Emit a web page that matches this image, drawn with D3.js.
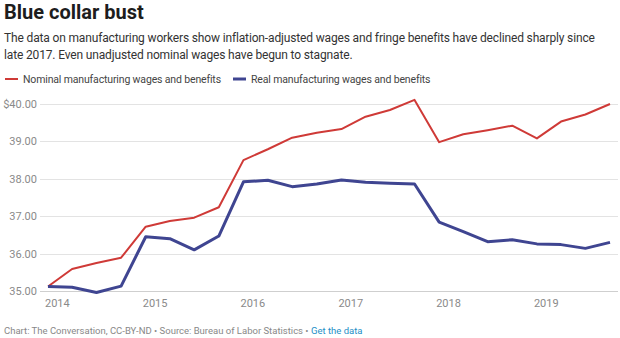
<!DOCTYPE html>
<html>
<head>
<meta charset="utf-8">
<script src="https://cdn.jsdelivr.net/npm/d3@7"></script>
<style>
  body { margin: 0; background: #fff; font-family: Roboto, sans-serif; }
  svg text { font-family: Roboto, sans-serif; }
</style>
</head>
<body>
<svg id="chart" width="620" height="338"></svg>
<script>
// quarterly observations, 2014 Q1 .. 2019 Q4
const quarters = [
  "2014-01", "2014-04", "2014-07", "2014-10",
  "2015-01", "2015-04", "2015-07", "2015-10",
  "2016-01", "2016-04", "2016-07", "2016-10",
  "2017-01", "2017-04", "2017-07", "2017-10",
  "2018-01", "2018-04", "2018-07", "2018-10",
  "2019-01", "2019-04", "2019-07", "2019-10"
];
const nominal = [
  35.12, 35.59, 35.75, 35.89,
  36.72, 36.87, 36.96, 37.24,
  38.50, 38.79, 39.10, 39.23,
  39.33, 39.66, 39.84, 40.11,
  38.98, 39.19, 39.30, 39.42,
  39.08, 39.53, 39.72, 40.00
];
const real = [
  35.12, 35.10, 34.96, 35.13,
  36.45, 36.40, 36.10, 36.47,
  37.92, 37.96, 37.79, 37.86,
  37.97, 37.91, 37.88, 37.86,
  36.84, 36.59, 36.32, 36.37,
  36.26, 36.24, 36.14, 36.30
];
const yTicks = [35, 36, 37, 38, 39, 40];
const years = [2014, 2015, 2016, 2017, 2018, 2019];

const seriesNames = ["Nominal manufacturing wages and benefits", "Real manufacturing wages and benefits"];
const colors = ["#cf3a37", "#3f4591"];

const svg = d3.select("#chart");
const parse = d3.timeParse("%Y-%m");
const dates = quarters.map(parse);

const x = d3.scaleTime()
  .domain([dates[0], dates[dates.length - 1]])
  .range([48, 610]);

const y = d3.scaleLinear()
  .domain([35, 40])
  .range([291, 104]);

// header
svg.append("text")
  .attr("x", 4).attr("y", 19)
  .attr("font-size", 20).attr("font-weight", 700)
  .attr("fill", "#1d1d1d")
  .text("Blue collar bust");

const sub = svg.append("text")
  .attr("font-size", 12).attr("fill", "#333")
  .attr("letter-spacing", -0.15);
sub.append("tspan").attr("x", 4).attr("y", 42)
  .text("The data on manufacturing workers show inflation-adjusted wages and fringe benefits have declined sharply since");
sub.append("tspan").attr("x", 4).attr("y", 59)
  .text("late 2017. Even unadjusted nominal wages have begun to stagnate.");

// legend
const legendX = [5, 233];
seriesNames.forEach((name, i) => {
  svg.append("line")
    .attr("x1", legendX[i]).attr("x2", legendX[i] + 13)
    .attr("y1", 79).attr("y2", 79)
    .attr("stroke", colors[i]).attr("stroke-width", i === 0 ? 2 : 3);
  svg.append("text")
    .attr("x", legendX[i] + 18).attr("y", 83)
    .attr("font-size", 10.5).attr("fill", "#444")
    .attr("letter-spacing", -0.15)
    .text(name);
});

// y grid + labels
const yg = svg.append("g");
yg.selectAll("line").data(yTicks).enter().append("line")
  .attr("x1", 40).attr("x2", 618)
  .attr("y1", d => Math.round(y(d)) + 0.5).attr("y2", d => Math.round(y(d)) + 0.5)
  .attr("stroke", d => d === 35 ? "#cfcfcf" : "#e3e3e3");
yg.selectAll("text").data(yTicks).enter().append("text")
  .attr("x", 37).attr("y", d => y(d) + 4)
  .attr("text-anchor", "end")
  .attr("font-size", 11).attr("fill", "#8a8a8a")
  .text(d => (d === 40 ? "$" : "") + d3.format(".2f")(d));

// x labels
svg.append("g").selectAll("text").data(years).enter().append("text")
  .attr("x", d => x(new Date(d, 0, 1)) - 3)
  .attr("y", 307)
  .attr("font-size", 11).attr("fill", "#8a8a8a")
  .text(d => d);

// lines
const line = d3.line()
  .x((d, i) => x(dates[i]))
  .y(d => y(d));

svg.append("path").datum(nominal)
  .attr("d", line).attr("fill", "none")
  .attr("stroke", colors[0]).attr("stroke-width", 2)
  .attr("stroke-linejoin", "round");

svg.append("path").datum(real)
  .attr("d", line).attr("fill", "none")
  .attr("stroke", colors[1]).attr("stroke-width", 3)
  .attr("stroke-linejoin", "round");

// footer
const foot = svg.append("text")
  .attr("x", 4).attr("y", 334)
  .attr("font-size", 9.5).attr("fill", "#888");
foot.append("tspan").text("Chart: The Conversation, CC-BY-ND • Source: Bureau of Labor Statistics • ");
foot.append("tspan").attr("fill", "#1d8fc7").text("Get the data");
</script>
</body>
</html>
